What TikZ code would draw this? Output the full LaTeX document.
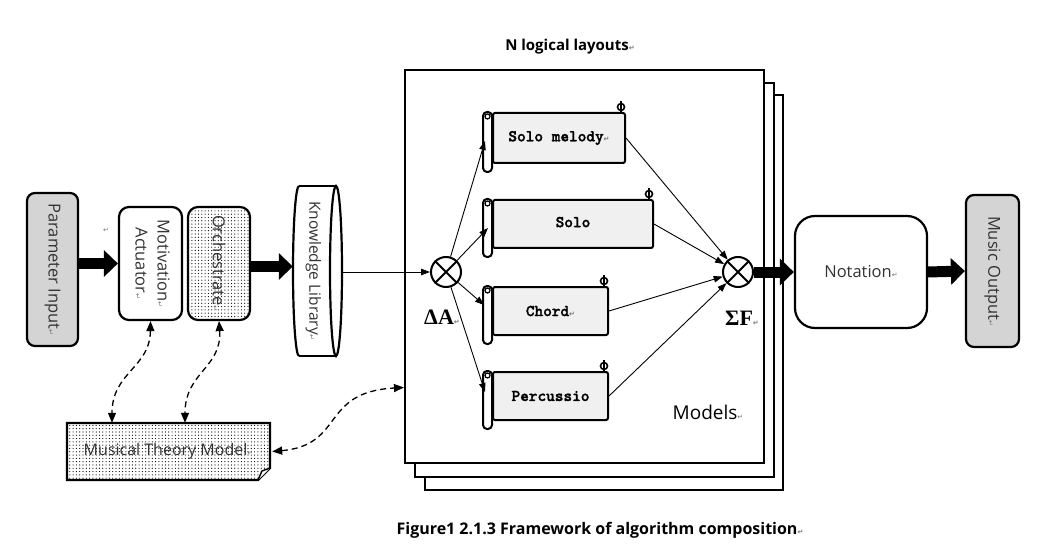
\documentclass[tikz,border=0pt]{standalone}
\usepackage{fontspec}
\setmainfont{Open Sans}
\newfontfamily\monof{lmmonolt10-bold}[Extension=.otf, BoldFont=lmmonolt10-bold, BoldFeatures={FakeBold=1.6}]
\newfontfamily\serf{Liberation Serif}
\newfontfamily\djv{DejaVu Sans}
\usetikzlibrary{arrows.meta,patterns,calc}
\pgfdeclarepatternformonly{mydots}{\pgfqpoint{-1pt}{-1pt}}{\pgfqpoint{2pt}{2pt}}{\pgfqpoint{3.3pt}{3.3pt}}{%
  \pgfpathcircle{\pgfqpoint{0.5pt}{0.5pt}}{0.6pt}\pgfusepath{fill}}
\newcommand\pmk{{\djv\fontsize{7}{7}\selectfont\textcolor{black!55}{↵}}}
\newcommand\scrolldeco[1]{%
  \draw[line width=2pt, fill=white, rounded corners=4pt] ([xshift=-9pt]#1.north west) rectangle ([yshift=-8pt]#1.south west);
  \draw[line width=1.2pt] ([xshift=-4.5pt,yshift=-4.5pt]#1.north west) circle (2.5pt);
  \draw[line width=1.6pt, fill=white] ([xshift=-5pt,yshift=5pt]#1.north east) circle (3.5pt);
  \draw[line width=1.4pt] ([xshift=-5pt,yshift=11pt]#1.north east) -- ([xshift=-5pt]#1.north east);
}
\begin{document}
\begin{tikzpicture}[x=1pt,y=-1pt,
  box/.style={draw, line width=2.2pt, rounded corners=8pt, inner sep=0pt, align=center,
    font=\fontsize{16.5}{19}\selectfont, text=black!80},
  bigarrow/.style={line width=11pt, -{Triangle[length=14pt,width=26pt]}},
  thinarrow/.style={line width=0.9pt, -{Triangle[length=9pt,width=6.5pt]}},
  dasharrow/.style={line width=1.3pt, dash pattern=on 6pt off 4pt,
    {Triangle[length=10pt,width=8pt]}-{Triangle[length=10pt,width=8pt]}},
  scrollbody/.style={draw, line width=2pt, rounded corners=2pt, fill=black!6, inner sep=0pt,
    font=\monof\bfseries\fontsize{16.5}{19}\selectfont},
  crossc/.style={draw, circle, line width=2pt, minimum size=30pt, inner sep=0pt, fill=white},
  frm/.style={draw, line width=2.2pt, fill=white},
  lbl/.style={font=\bfseries\fontsize{15}{18}\selectfont}
]
\useasboundingbox (0,0) rectangle (1055,548);

% stacked frames
\draw[frm] (425,95) rectangle (783,490);
\draw[frm] (415,83) rectangle (774,477);
\node[frm, minimum width=359pt, minimum height=393pt, inner sep=0pt] (frame) at (584.5,266.5) {};

% left boxes
\node[box, fill=black!17, minimum width=51pt, minimum height=153pt] (pi) at (52.5,269.5)
  {\rotatebox{-90}{Parameter Input\pmk}};
\node[box, rounded corners=10pt, fill=white, minimum width=63pt, minimum height=113pt] (ma) at (150.5,263.5)
  {\rotatebox{-90}{\begin{tabular}{@{}c@{}}Motivation\pmk\\[3pt] Actuator\pmk\end{tabular}}};
\node[box, rounded corners=10pt, preaction={fill=white}, pattern=mydots, minimum width=62pt, minimum height=113pt] (or) at (219,263.5)
  {\rotatebox{-90}{Orchestrate\pmk}};
\node at (106,230) {\pmk};

% knowledge library cylinder
\fill[white] (299,186) -- (336,186) -- (342,271) -- (336,356) -- (299,356)
  .. controls (295.7,356) and (293,317.9) .. (293,271) .. controls (293,224.1) and (295.7,186) .. (299,186);
\draw[line width=2.2pt] (299,186) -- (336,186) (299,356) -- (336,356);
\draw[line width=2.2pt] (299,186) .. controls (295.7,186) and (293,224.1) .. (293,271)
  .. controls (293,317.9) and (295.7,356) .. (299,356);
\draw[line width=2.2pt] (336,271) ellipse [x radius=6, y radius=85];
\node[inner sep=0pt, minimum width=49pt, minimum height=170pt, font=\fontsize{15.5}{19}\selectfont, text=black!80] (kl) at (317.5,271)
  {\hspace*{-8pt}\rotatebox{-90}{Knowledge Library\pmk}};

% Musical theory model
\draw[line width=2.2pt, preaction={fill=white}, pattern=mydots] (67,423) -- (270,423) -- (270,468) -- (258,480) -- (67,480) -- cycle;
\draw[line width=1.4pt, fill=white] (270,468) -- (262,471) -- (258,480);
\node[inner sep=0pt, minimum width=203pt, minimum height=57pt, font=\fontsize{16}{19}\selectfont, text=black!80] (mtm) at (168.5,451.5)
  {Musical Theory Model\pmk};

% cross circles
\node[crossc] (dA) at (446,272) {};
\draw[line width=2pt] (dA.45) -- (dA.225) (dA.135) -- (dA.315);
\node[crossc] (sF) at (738,272) {};
\draw[line width=2pt] (sF.45) -- (sF.225) (sF.135) -- (sF.315);
\node[font=\serf\bfseries\fontsize{22}{24}\selectfont] (dAl) at (442,317) {ΔA\pmk};
\node[font=\serf\bfseries\fontsize{22}{24}\selectfont] (sFl) at (742,318) {ΣF\pmk};

% scrolls
\node[scrollbody, minimum width=132pt, minimum height=50pt] (sm) at (559,138) {Solo melody\pmk};
\scrolldeco{sm}
\node[scrollbody, minimum width=160pt, minimum height=48pt] (so) at (573,224) {\raisebox{4pt}{Solo}};
\scrolldeco{so}
\node[scrollbody, minimum width=115pt, minimum height=48pt] (ch) at (550.5,311) {Chord\pmk};
\scrolldeco{ch}
\node[scrollbody, minimum width=115pt, minimum height=48pt] (pe) at (550.5,396) {Percussio};
\scrolldeco{pe}

% right boxes
\node[box, rounded corners=20pt, fill=white, minimum width=132pt, minimum height=112pt] (no) at (861,272) {Notation\pmk};
\node[box, fill=black!17, minimum width=53pt, minimum height=152pt] (mo) at (992.5,271)
  {\rotatebox{-90}{Music Output\pmk}};

% labels
\node[lbl] (nl) at (570,47) {N logical layouts\pmk};
\node[font=\fontsize{19}{22}\selectfont] (mod) at (708,412) {Models\pmk};
\node[font=\bfseries\fontsize{16}{18}\selectfont] (cap) at (600,530) {Figure1 2.1.3 Framework of algorithm composition\pmk};

% thick arrows
\draw[bigarrow] (pi.east |- ma.west) -- (ma.west);
\draw[bigarrow] ([yshift=-3pt]or.east) -- ([yshift=-3pt]or.east -| kl.west);
\draw[bigarrow] (sF.east) -- (no.west);
\draw[bigarrow] (no.east) -- (mo.west);

% thin arrows
\draw[thinarrow] (kl.east |- dA) -- (dA.west);
\draw[thinarrow] (dA) -- ([xshift=-7pt,yshift=-3pt]sm.west);
\draw[thinarrow] (dA) -- ([xshift=-4pt,yshift=-4pt]so.west);
\draw[thinarrow] (dA) -- ([xshift=-8pt,yshift=6pt]ch.west);
\draw[thinarrow] (dA) -- ([xshift=-7pt,yshift=4pt]pe.west);
\draw[thinarrow] (sm.east) -- (sF);
\draw[thinarrow] (so.east) -- (sF);
\draw[thinarrow] (ch.east) -- (sF);
\draw[thinarrow] (pe.east) -- (sF);

% dashed curved arrows
\draw[dasharrow] (ma.south) .. controls (150,368) and (112,372) .. ([xshift=-56.5pt]mtm.north);
\draw[dasharrow] (or.south) .. controls (222,368) and (185,372) .. ([xshift=16.5pt]mtm.north);
\draw[dasharrow] ([xshift=2pt]mtm.east) .. controls (345,445) and (320,392) .. ([yshift=-121pt]frame.west);
\end{tikzpicture}
\end{document}
